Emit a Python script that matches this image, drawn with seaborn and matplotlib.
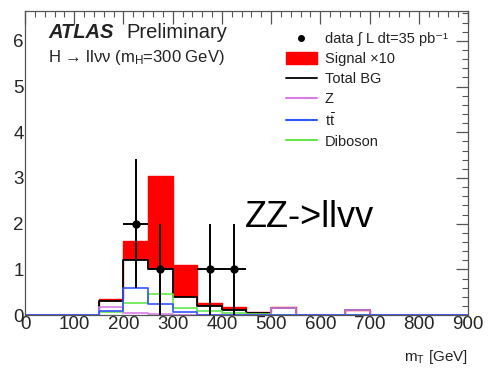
import numpy as np
import pandas as pd
import matplotlib
matplotlib.use("Agg")
import matplotlib.pyplot as plt
from matplotlib.ticker import MultipleLocator
from matplotlib.lines import Line2D
from matplotlib.patches import Patch
import seaborn as sns

# ---- data (events per 50 GeV bin) ----
bin_edges = [0, 50, 100, 150, 200, 250, 300, 350, 400, 450, 500, 550, 600, 650, 700, 750, 800, 850, 900]
total_bg = [0, 0, 0, 0.30, 1.20, 1.00, 0.40, 0.20, 0.12, 0.04, 0.16, 0, 0, 0.12, 0, 0, 0, 0]
signal_x10 = [0, 0, 0, 0.06, 0.42, 2.04, 0.70, 0.06, 0.06, 0.02, 0.01, 0, 0, 0, 0, 0, 0, 0]
z_bg = [0, 0, 0, 0.18, 0.05, 0.02, 0.01, 0.01, 0.01, 0.01, 0.16, 0, 0, 0.12, 0, 0, 0, 0]
ttbar_bg = [0, 0, 0, 0.09, 0.60, 0.24, 0.06, 0.01, 0.01, 0, 0, 0, 0, 0, 0, 0, 0, 0]
diboson_bg = [0, 0, 0, 0.07, 0.27, 0.47, 0.15, 0.09, 0.05, 0.02, 0, 0, 0, 0, 0, 0, 0, 0]

data_x = [225, 275, 375, 425]
data_y = [2, 1, 1, 1]
data_yerr = [1.41, 1.0, 1.0, 1.0]
data_xerr = [25, 25, 25, 25]

x_ticks = [0, 100, 200, 300, 400, 500, 600, 700, 800, 900]
y_ticks = [0, 1, 2, 3, 4, 5, 6]

sns.set_theme(style="white")
plt.rcParams['font.family'] = ['Liberation Sans', 'DejaVu Sans']
plt.rcParams['mathtext.fontset'] = 'custom'
plt.rcParams['mathtext.rm'] = 'Liberation Sans'
plt.rcParams['mathtext.it'] = 'Liberation Sans:italic'

fig = plt.figure(figsize=(4.91, 3.72), dpi=100)
ax = fig.add_axes([0.051, 0.153, 0.902, 0.817])

edges = [float(e) for e in bin_edges]
centers = [(a + b) / 2 for a, b in zip(edges[:-1], edges[1:])]
df = pd.DataFrame({
    "mT": centers,
    "bg": total_bg,
    "sig_plus_bg": [b + s for b, s in zip(total_bg, signal_x10)],
    "z": z_bg,
    "tt": ttbar_bg,
    "db": diboson_bg,
})

def step(col, **kw):
    sns.histplot(data=df, x="mT", weights=col, bins=edges, element="step", ax=ax, **kw)

# signal x10 stacked on top of total BG (red fill), then white BG fill with black line
step("sig_plus_bg", fill=True, color="#ff0000", alpha=1, linewidth=0)
step("sig_plus_bg", fill=False, color="#ff0000", linewidth=1.0)
step("bg", fill=True, color="white", alpha=1, linewidth=0)
step("bg", fill=False, color="black", linewidth=1.3)
step("db", fill=False, color="#66e64d", linewidth=1.2)
step("z", fill=False, color="#d97ee6", linewidth=1.2)
step("tt", fill=False, color="#3355ff", linewidth=1.2)

ax.errorbar(data_x, data_y, yerr=data_yerr, xerr=data_xerr, fmt="o", color="black",
            markersize=5, elinewidth=1.4, capsize=0, zorder=10)

ax.set_xlim(0, 900)
ax.set_ylim(0, 6.65)
ax.set_xticks(x_ticks)
ax.set_yticks(y_ticks)
ax.xaxis.set_minor_locator(MultipleLocator(20))
ax.yaxis.set_minor_locator(MultipleLocator(0.2))
ax.tick_params(which="both", direction="in", top=True, right=True, color="#555555")
ax.tick_params(which="major", length=9, width=0.9, labelsize=13.5, pad=1)
ax.tick_params(which="minor", length=4.5, width=0.8)
ax.set_xlabel("")
ax.set_ylabel("")
for s in ax.spines.values():
    s.set_color("#555555")
    s.set_linewidth(0.9)

# texts
fig.text(0.098, 0.898, "ATLAS", fontsize=14.5, fontweight="bold", fontstyle="italic", color="#222222")
fig.text(0.258, 0.898, "Preliminary", fontsize=14.5, color="#222222")
fig.text(0.098, 0.832, "H → llνν (m$_{\\rm H}$=300 GeV)", fontsize=12, color="#222222")
ax.text(447, 2.14, "ZZ->llvv", fontsize=26, color="black", va="center", ha="left")
fig.text(0.953, 0.03, r"m$_{\rm T}$ [GeV]", fontsize=11, ha="right", color="#222222")

handles = [
    Line2D([0], [0], marker="o", color="black", linestyle="none", markersize=4),
    Patch(facecolor="#ff0000", edgecolor="#ff0000"),
    Line2D([0], [0], color="black", linewidth=1.3),
    Line2D([0], [0], color="#d97ee6", linewidth=1.5),
    Line2D([0], [0], color="#3355ff", linewidth=1.5),
    Line2D([0], [0], color="#66e64d", linewidth=1.5),
]
labels = ["data ∫ L dt=35 pb⁻¹", "Signal ×10", "Total BG", "Z",
          r"t$\bar{\rm t}$", "Diboson"]
leg = ax.legend(handles, labels, loc="upper left", bbox_to_anchor=(0.576, 0.95),
                frameon=False, fontsize=10.5, handlelength=2.1, handleheight=0.9,
                labelspacing=0.4, handletextpad=0.55, borderaxespad=0)
for t in leg.get_texts():
    t.set_color("#222222")

fig.savefig("out.png", dpi=100)
